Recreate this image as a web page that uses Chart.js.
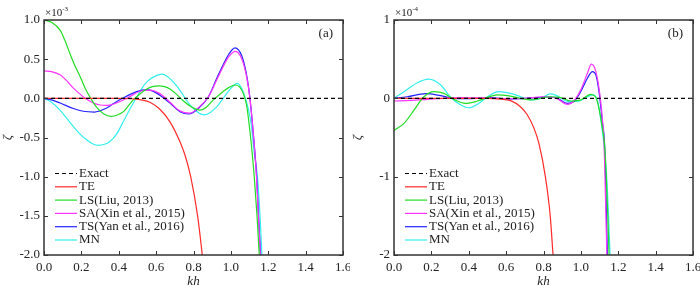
<!DOCTYPE html>
<html>
<head>
<meta charset="utf-8">
<script src="https://cdn.jsdelivr.net/npm/chart.js@4.4.0/dist/chart.umd.min.js"></script>
<style>
body { margin: 0; background: #fff; }
#wrap { position: relative; width: 700px; height: 289px; }
.panel { position: absolute; top: 0; width: 350px; height: 289px; }
</style>
</head>
<body>
<div id="wrap">
  <div class="panel" style="left:0"><canvas id="chartA" width="350" height="289"></canvas></div>
  <div class="panel" style="left:350px"><canvas id="chartB" width="350" height="289"></canvas></div>
</div>
<script>
// legend labels and colours
var names = ['Exact', 'TE', 'LS(Liu, 2013)', 'SA(Xin et al., 2015)', 'TS(Yan et al., 2016)', 'MN'];
var colors = ['#000000', '#ff2a2a', '#22dd22', '#ff33ff', '#2222ff', '#33eeee'];

var khExact = [0, 1.6];
var zExact = [0, 0];

// panel (a), values x 1e-3
var khA_TE = [0, 0.1, 0.2, 0.3, 0.4, 0.47, 0.52, 0.567, 0.62, 0.674, 0.727, 0.754, 0.785, 0.822, 0.847, 0.86];
var zA_TE  = [0, 0, 0, 0, 0, -0.005, -0.02, -0.05, -0.14, -0.3, -0.55, -0.72, -1.0, -1.5, -2.0, -2.3];

var khA_LS = [0, 0.04, 0.086, 0.11, 0.139, 0.165, 0.193, 0.22, 0.25, 0.28, 0.32, 0.36, 0.395, 0.425, 0.45, 0.478, 0.51, 0.55, 0.58, 0.615, 0.645, 0.674, 0.71, 0.745, 0.79, 0.835, 0.87, 0.906, 0.935, 0.96, 0.99, 1.022, 1.045, 1.065, 1.084, 1.102, 1.115, 1.125, 1.14, 1.152, 1.16];
var zA_LS  = [1.0, 0.97, 0.87, 0.75, 0.57, 0.42, 0.28, 0.13, 0, -0.11, -0.2, -0.23, -0.21, -0.17, -0.1, -0.02, 0.05, 0.12, 0.15, 0.16, 0.15, 0.12, 0.05, -0.03, -0.11, -0.15, -0.11, -0.02, 0.04, 0.09, 0.14, 0.17, 0.15, 0.07, -0.085, -0.42, -0.72, -1.0, -1.5, -2.0, -2.4];

var khA_SA = [0, 0.04, 0.086, 0.12, 0.157, 0.19, 0.22, 0.264, 0.3, 0.335, 0.37, 0.407, 0.45, 0.514, 0.567, 0.62, 0.674, 0.727, 0.78, 0.826, 0.88, 0.933, 0.988, 1.025, 1.057, 1.084, 1.102, 1.12, 1.137, 1.147, 1.158, 1.167];
var zA_SA  = [0.35, 0.34, 0.30, 0.23, 0.13, 0.06, 0, -0.06, -0.085, -0.09, -0.075, -0.04, 0.01, 0.09, 0.105, 0.06, -0.05, -0.16, -0.19, -0.12, 0.02, 0.28, 0.53, 0.60, 0.51, 0.28, 0, -0.45, -1.0, -1.5, -2.0, -2.5];

var khA_TS = [0, 0.04, 0.086, 0.157, 0.21, 0.27, 0.33, 0.37, 0.42, 0.496, 0.55, 0.60, 0.674, 0.727, 0.775, 0.826, 0.88, 0.933, 0.988, 1.022, 1.057, 1.084, 1.102, 1.12, 1.138, 1.148, 1.159, 1.168];
var zA_TS  = [0, -0.02, -0.06, -0.13, -0.165, -0.175, -0.13, -0.07, 0, 0.085, 0.11, 0.07, -0.06, -0.17, -0.2, -0.13, 0.02, 0.3, 0.56, 0.645, 0.55, 0.3, 0, -0.45, -1.0, -1.5, -2.0, -2.5];

var khA_MN = [0, 0.04, 0.086, 0.12, 0.157, 0.19, 0.228, 0.26, 0.29, 0.32, 0.353, 0.39, 0.424, 0.45, 0.478, 0.505, 0.53, 0.555, 0.6, 0.63, 0.66, 0.71, 0.745, 0.77, 0.80, 0.83, 0.86, 0.89, 0.924, 0.95, 0.977, 1.005, 1.035, 1.05, 1.066, 1.093, 1.11, 1.125, 1.142, 1.156, 1.166, 1.175];
var zA_MN  = [0, -0.05, -0.15, -0.25, -0.36, -0.45, -0.53, -0.58, -0.60, -0.59, -0.55, -0.45, -0.30, -0.18, -0.06, 0.05, 0.15, 0.22, 0.29, 0.31, 0.28, 0.16, 0.04, -0.05, -0.13, -0.19, -0.21, -0.18, -0.11, -0.03, 0.06, 0.14, 0.19, 0.16, 0.085, -0.13, -0.35, -0.7, -1.0, -1.5, -2.0, -2.5];

// panel (b), values x 1e-4
var khB_TE = [0, 0.2, 0.4, 0.5, 0.571, 0.624, 0.678, 0.713, 0.749, 0.776, 0.81, 0.836, 0.851, 0.86];
var zB_TE  = [0, 0, 0, 0, -0.01, -0.03, -0.11, -0.21, -0.38, -0.58, -1.0, -1.5, -2.0, -2.3];

var khB_LS = [0, 0.054, 0.107, 0.16, 0.214, 0.267, 0.32, 0.383, 0.446, 0.50, 0.553, 0.606, 0.678, 0.731, 0.785, 0.838, 0.892, 0.946, 1.0, 1.052, 1.078, 1.097, 1.115, 1.127, 1.136, 1.144, 1.151, 1.157];
var zB_LS  = [-0.41, -0.32, -0.15, 0.02, 0.085, 0.064, -0.013, -0.064, -0.034, 0.013, 0.043, 0.034, 0, -0.02, 0, 0.02, 0.01, -0.034, -0.02, 0.05, 0.02, -0.13, -0.38, -0.6, -1.0, -1.5, -2.0, -2.5];

var khB_SA = [0, 0.09, 0.18, 0.27, 0.36, 0.45, 0.54, 0.63, 0.70, 0.803, 0.87, 0.928, 0.963, 0.999, 1.035, 1.056, 1.078, 1.097, 1.115, 1.124, 1.129, 1.134, 1.139, 1.144];
var zB_SA  = [-0.034, -0.026, -0.013, 0, 0.01, 0.005, 0, -0.005, 0, 0.02, 0, -0.077, -0.03, 0.107, 0.32, 0.436, 0.36, 0.13, -0.26, -0.56, -1.0, -1.5, -2.0, -2.5];

var khB_TS = [0, 0.071, 0.17, 0.25, 0.32, 0.39, 0.45, 0.517, 0.606, 0.678, 0.749, 0.82, 0.874, 0.928, 0.963, 0.999, 1.035, 1.062, 1.08, 1.097, 1.115, 1.127, 1.132, 1.137, 1.142, 1.147];
var zB_TS  = [0, 0.02, 0.06, 0.034, 0, -0.005, 0, 0.01, -0.01, -0.005, 0.01, 0.017, 0, -0.064, -0.04, 0.085, 0.256, 0.34, 0.3, 0.085, -0.3, -0.6, -1.0, -1.5, -2.0, -2.5];

var khB_MN = [0, 0.054, 0.125, 0.187, 0.25, 0.30, 0.357, 0.40, 0.455, 0.50, 0.56, 0.624, 0.678, 0.731, 0.785, 0.838, 0.883, 0.928, 0.981, 1.035, 1.062, 1.088, 1.106, 1.124, 1.138, 1.148, 1.156, 1.164];
var zB_MN  = [0, 0.085, 0.2, 0.245, 0.17, 0.02, -0.085, -0.12, -0.064, 0.02, 0.085, 0.064, 0.02, -0.02, 0, 0.056, 0.02, -0.04, -0.04, 0.02, 0.043, -0.02, -0.26, -0.6, -1.0, -1.5, -2.0, -2.5];

var serif = '"Liberation Serif", "Times New Roman", serif';

function pts(kh, z) {
    return kh.map(function(k, i) { return {x: k, y: z[i]}; });
}

function makeDatasets(series) {
    return series.map(function(s, i) {
        return {
            label: names[i],
            data: pts(s[0], s[1]),
            borderColor: colors[i],
            backgroundColor: colors[i],
            borderWidth: 1.2,
            borderDash: i === 0 ? [4, 3] : [],
            pointRadius: 0,
            fill: false,
            cubicInterpolationMode: 'monotone'
        };
    });
}

// frame, inward ticks, legend and small labels
var decorPlugin = {
    id: 'decor',
    afterDraw: function(chart, args, opts) {
        var ctx = chart.ctx, a = chart.chartArea;
        var sx = chart.scales.x, sy = chart.scales.y;
        ctx.save();
        ctx.strokeStyle = '#333';
        ctx.lineWidth = 1.5;
        ctx.strokeRect(a.left, a.top, a.right - a.left, a.bottom - a.top);
        ctx.lineWidth = 1;
        ctx.beginPath();
        sx.ticks.forEach(function(t) {
            var px = Math.round(sx.getPixelForValue(t.value)) + 0.5;
            ctx.moveTo(px, a.bottom); ctx.lineTo(px, a.bottom - 4);
            ctx.moveTo(px, a.top); ctx.lineTo(px, a.top + 4);
        });
        sy.ticks.forEach(function(t) {
            var py = Math.round(sy.getPixelForValue(t.value)) + 0.5;
            ctx.moveTo(a.left, py); ctx.lineTo(a.left + 4, py);
            ctx.moveTo(a.right, py); ctx.lineTo(a.right - 4, py);
        });
        ctx.stroke();

        // legend
        ctx.font = '13px ' + serif;
        ctx.textBaseline = 'middle';
        ctx.textAlign = 'left';
        chart.data.datasets.forEach(function(ds, i) {
            var y = a.top + 153.5 + i * 13.3;
            ctx.strokeStyle = ds.borderColor;
            ctx.lineWidth = 1.2;
            ctx.setLineDash(ds.borderDash);
            ctx.beginPath();
            ctx.moveTo(a.left + 11, y); ctx.lineTo(a.left + 33, y);
            ctx.stroke();
            ctx.setLineDash([]);
            ctx.fillStyle = '#222';
            ctx.fillText(ds.label, a.left + 35, y);
        });

        // panel tag
        ctx.textAlign = 'right';
        ctx.fillText(opts.tag, a.right - 10, a.top + 14);

        // exponent above the y axis
        ctx.textAlign = 'left';
        ctx.textBaseline = 'alphabetic';
        ctx.font = '11px ' + serif;
        ctx.fillText('\u00d710', a.left + 1, 16);
        var w = ctx.measureText('\u00d710').width;
        ctx.font = '7px ' + serif;
        ctx.fillText(opts.exp, a.left + 1 + w, 11);
        ctx.restore();
    }
};

function makeChart(id, series, tag, exp, yStep, digits) {
    return new Chart(document.getElementById(id), {
        type: 'line',
        data: { datasets: makeDatasets(series) },
        options: {
            animation: false,
            responsive: false,
            devicePixelRatio: 1,
            layout: { padding: { left: 0, right: 7, top: 20, bottom: 0 } },
            plugins: {
                legend: { display: false },
                tooltip: { enabled: false },
                decor: { tag: tag, exp: exp }
            },
            scales: {
                x: {
                    type: 'linear',
                    min: 0,
                    max: 1.6,
                    grid: { display: false, drawTicks: false },
                    border: { display: false },
                    ticks: {
                        stepSize: 0.2,
                        padding: 5,
                        color: '#222',
                        font: { family: serif, size: 13 },
                        maxRotation: 0,
                        autoSkip: false,
                        callback: function(v) { return v.toFixed(1); }
                    },
                    title: {
                        display: true,
                        text: 'kh',
                        color: '#222',
                        padding: { top: 0, bottom: 0 },
                        font: { family: serif, size: 13, style: 'italic' }
                    },
                    afterFit: function(s) { s.height = 34; s.paddingLeft = 0; s.paddingRight = 0; }
                },
                y: {
                    type: 'linear',
                    min: -2,
                    max: 1,
                    grid: { display: false, drawTicks: false },
                    border: { display: false },
                    ticks: {
                        stepSize: yStep,
                        padding: 4,
                        color: '#222',
                        font: { family: serif, size: 13 },
                        callback: function(v) { return v.toFixed(digits); }
                    },
                    title: {
                        display: true,
                        text: '\u03b6',
                        color: '#222',
                        padding: { top: 0, bottom: 0 },
                        font: { family: serif, size: 13, style: 'italic' }
                    },
                    afterFit: function(s) { s.width = 44; s.paddingTop = 0; s.paddingBottom = 0; }
                }
            }
        },
        plugins: [decorPlugin]
    });
}

var chartA = makeChart('chartA', [
    [khExact, zExact], [khA_TE, zA_TE], [khA_LS, zA_LS],
    [khA_SA, zA_SA], [khA_TS, zA_TS], [khA_MN, zA_MN]
], '(a)', '-3', 0.5, 1);

var chartB = makeChart('chartB', [
    [khExact, zExact], [khB_TE, zB_TE], [khB_LS, zB_LS],
    [khB_SA, zB_SA], [khB_TS, zB_TS], [khB_MN, zB_MN]
], '(b)', '-4', 1, 0);
</script>
</body>
</html>
